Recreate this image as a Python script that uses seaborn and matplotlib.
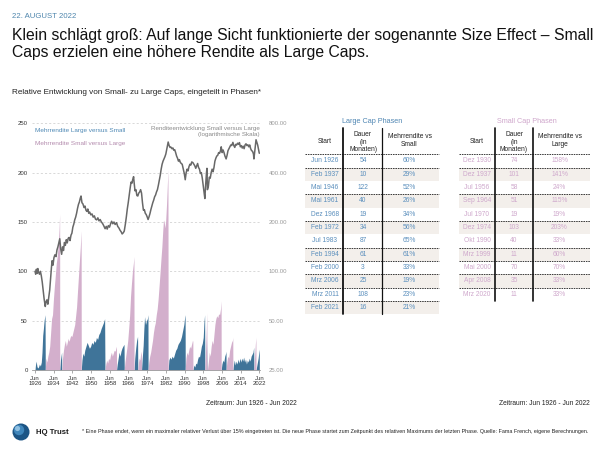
import matplotlib
matplotlib.use("Agg")
import matplotlib.pyplot as plt
import seaborn as sns
import pandas as pd
from matplotlib.patches import Rectangle, Circle

sns.set_style("white")
plt.rcParams['font.family'] = ['Liberation Sans', 'DejaVu Sans']

# ---------------- data ----------------
ratio_years = [1926.5, 1926.8, 1927.1, 1927.4, 1927.7, 1928.0, 1928.4, 1928.8, 1929.2, 1929.6,
               1930.0, 1930.4, 1930.9, 1931.2, 1931.6, 1932.0, 1932.4, 1932.8, 1933.1, 1933.5,
               1933.8, 1934.2, 1934.6, 1935.0, 1935.5, 1935.9, 1936.3, 1936.7, 1937.1, 1937.5,
               1937.9, 1938.3, 1938.7, 1939.1, 1939.5, 1939.9, 1940.3, 1940.7, 1941.1, 1941.5,
               1941.9, 1942.3, 1942.7, 1943.1, 1943.5, 1943.9, 1944.3, 1944.7, 1945.1, 1945.5,
               1945.9, 1946.2, 1946.6, 1947.0, 1947.5, 1947.9, 1948.3, 1948.7, 1949.1, 1949.5,
               1949.9, 1950.4, 1950.9, 1951.4, 1951.9, 1952.4, 1952.9, 1953.4, 1953.9, 1954.4,
               1954.9, 1955.4, 1955.9, 1956.5, 1957.0, 1957.4, 1957.9, 1958.4, 1958.9, 1959.3,
               1959.8, 1960.3, 1960.8, 1961.4, 1961.9, 1962.4, 1962.9, 1963.4, 1963.8, 1964.3,
               1964.7, 1965.2, 1965.6, 1966.0, 1966.4, 1966.8, 1967.2, 1967.6, 1968.0, 1968.3,
               1968.7, 1968.95, 1969.3, 1969.7, 1970.1, 1970.5, 1970.9, 1971.3, 1971.7, 1972.1,
               1972.5, 1972.9, 1973.3, 1973.7, 1974.1, 1974.5, 1974.9, 1975.3, 1975.7, 1976.1,
               1976.5, 1976.9, 1977.3, 1977.7, 1978.1, 1978.5, 1978.9, 1979.3, 1979.7, 1980.1,
               1980.5, 1980.9, 1981.3, 1981.7, 1982.1, 1982.5, 1982.9, 1983.2, 1983.5, 1983.9,
               1984.3, 1984.7, 1985.1, 1985.5, 1985.9, 1986.3, 1986.7, 1987.1, 1987.5, 1987.9,
               1988.3, 1988.7, 1989.1, 1989.5, 1989.9, 1990.4, 1990.8, 1991.2, 1991.6, 1992.0,
               1992.4, 1992.8, 1993.2, 1993.6, 1994.1, 1994.5, 1994.9, 1995.3, 1995.7, 1996.1,
               1996.5, 1996.9, 1997.3, 1997.7, 1998.1, 1998.5, 1998.9, 1999.2, 1999.5, 1999.9,
               2000.1, 2000.3, 2000.7, 2001.1, 2001.5, 2001.9, 2002.3, 2002.7, 2003.1, 2003.5,
               2003.9, 2004.3, 2004.7, 2005.1, 2005.5, 2005.9, 2006.2, 2006.6, 2007.0, 2007.4,
               2007.8, 2008.3, 2008.7, 2009.1, 2009.5, 2009.9, 2010.3, 2010.7, 2011.2, 2011.6,
               2012.0, 2012.4, 2012.8, 2013.2, 2013.6, 2014.0, 2014.4, 2014.8, 2015.2, 2015.6,
               2016.0, 2016.4, 2016.8, 2017.2, 2017.6, 2018.0, 2018.4, 2018.8, 2019.2, 2019.6,
               2020.0, 2020.2, 2020.6, 2020.9, 2021.1, 2021.4, 2021.8, 2022.1, 2022.5]
ratio_values = [100, 96, 103, 97, 104, 99, 96, 100, 94, 86,
                76, 68, 61, 65, 67, 63, 70, 77, 88, 104,
                116, 109, 121, 126, 123, 135, 141, 149, 158, 137,
                127, 141, 134, 150, 144, 156, 149, 159, 161, 154,
                166, 171, 186, 194, 206, 214, 226, 242, 256, 265,
                280, 288, 262, 258, 245, 250, 236, 232, 240, 226,
                230, 221, 224, 214, 218, 208, 206, 212, 203, 207,
                200, 196, 190, 182, 188, 181, 190, 186, 196, 202,
                195, 200, 193, 198, 188, 184, 178, 174, 169, 172,
                176, 195, 215, 240, 262, 290, 320, 350, 345, 362,
                378, 345, 310, 315, 290, 288, 300, 305, 315, 300,
                262, 236, 238, 226, 222, 215, 207, 215, 225, 238,
                250, 262, 272, 285, 292, 305, 315, 335, 360, 385,
                420, 450, 470, 485, 500, 520, 555, 585, 615, 585,
                570, 572, 560, 566, 548, 552, 530, 505, 490, 470,
                480, 462, 455, 450, 425, 395, 362, 400, 420, 410,
                435, 450, 445, 465, 460, 450, 440, 425, 440, 455,
                430, 420, 395, 400, 370, 335, 300, 278, 330, 400,
                425, 315, 330, 375, 370, 400, 420, 405, 430, 470,
                490, 505, 510, 530, 525, 545, 575, 530, 550, 530,
                505, 485, 510, 545, 560, 575, 590, 585, 612, 585,
                570, 595, 590, 605, 595, 610, 575, 585, 565, 580,
                560, 590, 600, 585, 592, 575, 590, 560, 545, 540,
                520, 485, 550, 600, 635, 615, 590, 560, 525]

large_years = [1926.5, 1926.7, 1927.0, 1927.3, 1927.6, 1928.0, 1928.4, 1928.8, 1929.2, 1929.5,
               1929.8, 1930.1, 1930.4, 1930.8, 1930.9,
               1937.1, 1937.4, 1937.7, 1937.9, 1937.95,
               1946.3, 1946.6, 1947.0, 1947.4, 1947.8, 1948.3, 1948.8, 1949.3, 1949.8, 1950.3,
               1950.8, 1951.3, 1951.8, 1952.3, 1952.8, 1953.3, 1953.8, 1954.3, 1954.8, 1955.3,
               1955.8, 1956.3, 1956.45,
               1961.4, 1961.7, 1962.1, 1962.5, 1962.9, 1963.3, 1963.7, 1964.1, 1964.6, 1964.7,
               1968.9, 1969.2, 1969.6, 1970.0, 1970.4, 1970.5,
               1972.1, 1972.4, 1972.8, 1973.1, 1973.4, 1973.8, 1974.2, 1974.6, 1974.85, 1974.9,
               1983.5, 1983.8, 1984.2, 1984.7, 1985.2, 1985.7, 1986.2, 1986.7, 1987.2, 1987.7,
               1988.2, 1988.7, 1989.2, 1989.7, 1990.2, 1990.6, 1990.75, 1990.8,
               1994.1, 1994.5, 1994.9, 1995.3, 1995.7, 1996.1, 1996.5, 1996.9, 1997.3, 1997.7,
               1998.1, 1998.5, 1998.8, 1999.1, 1999.2,
               2000.1, 2000.25, 2000.3,
               2006.2, 2006.5, 2006.9, 2007.3, 2007.7, 2008.1, 2008.25, 2008.3,
               2011.2, 2011.5, 2011.8, 2012.2, 2012.6, 2013.0, 2013.4, 2013.8, 2014.2, 2014.6,
               2015.0, 2015.4, 2015.8, 2016.2, 2016.6, 2017.0, 2017.4, 2017.8, 2018.2, 2018.6,
               2019.0, 2019.4, 2019.8, 2020.1, 2020.2,
               2021.1, 2021.4, 2021.7, 2022.0, 2022.3, 2022.5]
large_excess = [0, 5, 9, 4, 2, 3, 6, 4, 8, 18,
                35, 42, 50, 56, 0,
                0, 10, 15, 18, 0,
                0, 10, 17, 14, 20, 24, 28, 25, 22, 24,
                28, 26, 30, 28, 33, 31, 36, 38, 42, 45,
                48, 52, 0,
                0, 6, 12, 18, 14, 19, 22, 24, 26, 0,
                0, 12, 22, 30, 34, 0,
                0, 12, 25, 42, 54, 46, 50, 52, 56, 0,
                0, 10, 13, 11, 14, 12, 16, 20, 22, 26,
                28, 30, 34, 40, 46, 54, 56, 0,
                0, 5, 3, 7, 6, 11, 14, 13, 18, 24,
                27, 33, 48, 56, 0,
                0, 30, 0,
                0, 6, 10, 8, 14, 17, 19, 0,
                0, 6, 10, 5, 9, 6, 11, 7, 12, 8,
                12, 9, 13, 8, 11, 6, 10, 8, 12, 9,
                14, 16, 18, 23, 0,
                0, 4, 8, 12, 18, 21]

small_years = [1930.9, 1931.2, 1931.6, 1932.0, 1932.4, 1932.8, 1933.2, 1933.6, 1934.0, 1934.4,
               1934.8, 1935.2, 1935.6, 1936.0, 1936.4, 1936.8, 1937.05, 1937.1,
               1937.95, 1938.3, 1938.7, 1939.1, 1939.5, 1939.9, 1940.3, 1940.7, 1941.1, 1941.5,
               1941.9, 1942.3, 1942.7, 1943.1, 1943.5, 1943.9, 1944.3, 1944.7, 1945.1, 1945.5,
               1945.9, 1946.25, 1946.3,
               1956.45, 1956.8, 1957.2, 1957.6, 1958.0, 1958.4, 1958.8, 1959.2, 1959.6, 1960.0,
               1960.4, 1960.8, 1961.1, 1961.35, 1961.4,
               1964.7, 1965.0, 1965.4, 1965.8, 1966.2, 1966.6, 1967.0, 1967.4, 1967.8, 1968.2,
               1968.6, 1968.85, 1968.9,
               1970.5, 1970.8, 1971.1, 1971.4, 1971.7, 1972.0, 1972.1,
               1974.9, 1975.2, 1975.6, 1976.0, 1976.4, 1976.8, 1977.2, 1977.6, 1978.0, 1978.4,
               1978.8, 1979.2, 1979.6, 1980.0, 1980.4, 1980.8, 1981.2, 1981.5, 1981.8, 1982.1,
               1982.4, 1982.8, 1983.1, 1983.4, 1983.5,
               1990.8, 1991.1, 1991.5, 1991.9, 1992.3, 1992.7, 1993.1, 1993.5, 1993.9, 1994.05, 1994.1,
               1999.2, 1999.5, 1999.8, 2000.05, 2000.1,
               2000.3, 2000.7, 2001.1, 2001.5, 2001.9, 2002.3, 2002.7, 2003.1, 2003.5, 2003.9,
               2004.3, 2004.7, 2005.1, 2005.5, 2005.9, 2006.15, 2006.2,
               2008.3, 2008.6, 2009.0, 2009.4, 2009.8, 2010.2, 2010.6, 2011.0, 2011.15, 2011.2,
               2020.2, 2020.5, 2020.8, 2021.05, 2021.1]
small_excess = [0, 12, 8, 14, 18, 24, 38, 52, 56, 72,
                85, 96, 108, 115, 126, 142, 158, 0,
                0, 12, 20, 26, 30, 24, 28, 32, 29, 33,
                35, 34, 38, 42, 46, 55, 64, 80, 95, 110,
                125, 141, 0,
                0, 6, 10, 7, 12, 10, 15, 18, 14, 17,
                20, 19, 22, 24, 0,
                0, 8, 15, 22, 30, 42, 55, 75, 88, 100,
                108, 115, 0,
                0, 8, 12, 10, 16, 19, 0,
                0, 8, 14, 18, 24, 30, 38, 44, 48, 56,
                62, 72, 85, 98, 112, 125, 142, 152, 150, 144,
                150, 168, 185, 203, 0,
                0, 12, 18, 15, 20, 24, 22, 26, 30, 29, 0,
                0, 20, 40, 58, 0,
                0, 8, 18, 14, 24, 30, 26, 36, 46, 52,
                55, 53, 57, 56, 62, 70, 0,
                0, 8, 14, 12, 20, 24, 28, 30, 33, 0,
                0, 14, 26, 33, 0]

x_tick_years = [1926, 1934, 1942, 1950, 1958, 1966, 1974, 1982, 1990, 1998, 2006, 2014, 2022]
left_ticks = [0, 50, 100, 150, 200, 250]
right_ticks = [25, 50, 100, 200, 400, 800]
right_tick_labels = ["25.00", "50.00", "100.00", "200.00", "400.00", "800.00"]

large_start = ["Jun 1926", "Feb 1937", "Mai 1946", "Mai 1961", "Dez 1968", "Feb 1972",
               "Jul 1983", "Feb 1994", "Feb 2000", "Mrz 2006", "Mrz 2011", "Feb 2021"]
large_months = [54, 10, 122, 40, 19, 34, 87, 61, 3, 25, 108, 16]
large_pct = ["60%", "29%", "52%", "26%", "34%", "56%", "65%", "61%", "33%", "19%", "23%", "21%"]

small_start = ["Dez 1930", "Dez 1937", "Jul 1956", "Sep 1964", "Jul 1970", "Dez 1974",
               "Okt 1990", "Mrz 1999", "Mai 2000", "Apr 2008", "Mrz 2020"]
small_months = [74, 101, 58, 51, 19, 103, 40, 11, 70, 35, 11]
small_pct = ["158%", "141%", "24%", "115%", "19%", "203%", "33%", "60%", "70%", "33%", "33%"]

# ---------------- style ----------------
BLUE = "#3f7499"
PINK = "#d3afcc"
GREY_LINE = "#686868"
TXT = "#222222"

fig = plt.figure(figsize=(6, 4.5), dpi=100)
fig.patch.set_facecolor("white")

W, H = 600.0, 450.0
ax_l, ax_r, ax_t, ax_b = 32, 260, 123.3, 370
ax = fig.add_axes([ax_l / W, 1 - ax_b / H, (ax_r - ax_l) / W, (ax_b - ax_t) / H])
px_per_year = (259.3 - 35) / 96.0
x_left = 1926.5 - (35 - ax_l) / px_per_year
x_right = 2022.5 + (ax_r - 259.3) / px_per_year

ax.fill_between(large_years, large_excess, 0, color=BLUE, lw=0, zorder=2)
ax.fill_between(small_years, small_excess, 0, color=PINK, lw=0, zorder=2)
ax.set_xlim(x_left, x_right)
ax.set_ylim(0, 250)
ax.set_yticks(left_ticks)
ax.set_yticklabels([str(v) for v in left_ticks])
ax.yaxis.grid(True, linestyle=(0, (2.5, 2.5)), color="#d2d2d2", lw=0.6, zorder=0)
ax.xaxis.grid(False)
ax.set_xticks([y + 0.5 for y in x_tick_years])
ax.set_xticklabels([f"Jun\n{y}" for y in x_tick_years])
ax.tick_params(axis="x", length=2.5, width=0.5, color="#888888", labelsize=4.3,
               labelcolor="#333333", pad=1.5, direction="out", bottom=True)
ax.tick_params(axis="y", length=0, labelsize=4.3, labelcolor="#333333", pad=3)
for s in ["top", "right", "left"]:
    ax.spines[s].set_visible(False)
ax.spines["bottom"].set_color("#9a9a9a")
ax.spines["bottom"].set_linewidth(0.6)
ax.set_axisbelow(True)

ax2 = ax.twinx()
df = pd.DataFrame({"year": ratio_years, "value": ratio_values})
sns.lineplot(data=df, x="year", y="value", ax=ax2, color=GREY_LINE, lw=1.1, zorder=5)
ax2.set_yscale("log", base=2)
ax2.set_ylim(25, 800)
ax2.set_xlim(x_left, x_right)
ax2.set_yticks(right_ticks)
ax2.set_yticklabels(right_tick_labels)
ax2.minorticks_off()
ax2.tick_params(axis="y", length=0, labelsize=4.3, labelcolor="#9a9a9a", pad=6)
ax2.set_xlabel("")
ax2.set_ylabel("")
ax.set_xlabel("")
for s in ["top", "right", "left", "bottom"]:
    ax2.spines[s].set_visible(False)

# ---------------- overlay for texts and tables ----------------
ov = fig.add_axes([0, 0, 1, 1], zorder=10)
ov.set_xlim(0, W)
ov.set_ylim(H, 0)
ov.axis("off")
ov.patch.set_alpha(0)

ov.text(12, 16, "22. AUGUST 2022", fontsize=5.6, color="#4f86ad", va="center", ha="left")
ov.text(12, 35.5, "Klein schlägt groß: Auf lange Sicht funktionierte der sogenannte Size Effect – Small",
        fontsize=11.3, color="#111111", va="center", ha="left")
ov.text(12, 52.5, "Caps erzielen eine höhere Rendite als Large Caps.",
        fontsize=11.3, color="#111111", va="center", ha="left")
ov.text(12, 93, "Relative Entwicklung von Small- zu Large Caps, eingeteilt in Phasen*",
        fontsize=5.9, color=TXT, va="center", ha="left")

ov.text(35, 130.7, "Mehrrendite Large versus Small", fontsize=4.6, color="#4f89b5", va="center")
ov.text(35, 143.7, "Mehrrendite Small versus Large", fontsize=4.6, color="#b48cae", va="center")
ov.text(260, 131.3, "Renditeentwicklung Small versus Large\n(logarithmische Skala)", fontsize=4.5,
        color="#8a8a8a", va="center", ha="right", multialignment="right", linespacing=1.15)

ov.text(297, 403.3, "Zeitraum: Jun 1926 - Jun 2022", fontsize=4.8, color=TXT, va="center", ha="right")
ov.text(589.5, 403.3, "Zeitraum: Jun 1926 - Jun 2022", fontsize=4.8, color=TXT, va="center", ha="right")


def draw_table(x0, x1, xv1, xv2, centers, title, title_color, title_x, pct_header,
               starts, months, pcts, text_color, dashed_after, v_lws):
    row_top, row_h = 154.3, 13.33
    n = len(starts)
    ov.text(title_x, 121.7, title, fontsize=5.2, color=title_color, ha="center", va="center")
    for i in range(n):
        yt = row_top + i * row_h
        if i % 2 == 1:
            ov.add_patch(Rectangle((x0, yt), x1 - x0, row_h, facecolor="#f3efeb",
                                   edgecolor="none", zorder=1))
        yc = yt + row_h / 2
        ov.text(centers[0], yc, starts[i], fontsize=4.8, color=text_color, ha="center", va="center", zorder=3)
        ov.text(centers[1], yc, str(months[i]), fontsize=4.8, color=text_color, ha="center", va="center", zorder=3)
        ov.text(centers[2], yc, pcts[i], fontsize=4.8, color=text_color, ha="center", va="center", zorder=3)
    ov.text(centers[0], 141.7, "Start", fontsize=4.8, color=TXT, ha="center", va="center")
    ov.text(centers[1], 142.3, "Dauer\n(in\nMonaten)", fontsize=4.8, color=TXT, ha="center",
            va="center", linespacing=1.12)
    ov.text(centers[2], 140.8, "Mehrrendite vs\n" + pct_header, fontsize=4.8, color=TXT,
            ha="center", va="center", linespacing=1.2)
    ov.plot([x0, x1], [row_top, row_top], color="#3a3a3a", lw=0.7, ls=(0, (1.6, 0.9)), zorder=4)
    for k in dashed_after:
        y = row_top + k * row_h
        ov.plot([x0, x1], [y, y], color="#3a3a3a", lw=0.7, ls=(0, (1.6, 0.9)), zorder=4)
    bottom = row_top + n * row_h
    ov.plot([xv1, xv1], [128.3, bottom], color="#111111", lw=v_lws[0], zorder=5)
    ov.plot([xv2, xv2], [128.3, bottom], color="#111111", lw=v_lws[1], zorder=5)


draw_table(305, 438.5, 343.3, 381.7, [325, 363, 409.5], "Large Cap Phasen", "#4f86b3", 371.7,
           "Small", large_start, large_months, large_pct, "#5b8fbd",
           [1, 3, 5, 7, 8, 9, 10, 11], (1.3, 0.9))
draw_table(459, 590, 495, 533.3, [477, 514, 559.5], "Small Cap Phasen", "#cfa6cb", 526.7,
           "Large", small_start, small_months, small_pct, "#cfa8cc",
           [1, 3, 5, 7, 8, 9, 10], (1.2, 1.2))

# footer
ov.add_patch(Circle((21, 432), 8.5, facecolor="#1c5585", edgecolor="none", zorder=3))
ov.add_patch(Circle((19, 430), 5.2, facecolor="#3f86bb", edgecolor="none", zorder=4))
ov.add_patch(Circle((17.5, 428.5), 2.6, facecolor="#8fc0e2", edgecolor="none", zorder=5))
ov.text(36, 432, "HQ Trust", fontsize=5.6, fontweight="bold", color="#1b1b1b", va="center", ha="left")
ov.text(82, 432, "* Eine Phase endet, wenn ein maximaler relativer Verlust über 15% eingetreten ist. "
        "Die neue Phase startet zum Zeitpunkt des relativen Maximums der letzten Phase. "
        "Quelle: Fama French, eigene Berechnungen.", fontsize=3.85, color=TXT, va="center", ha="left")

fig.savefig("out.png", dpi=100, facecolor="white")
